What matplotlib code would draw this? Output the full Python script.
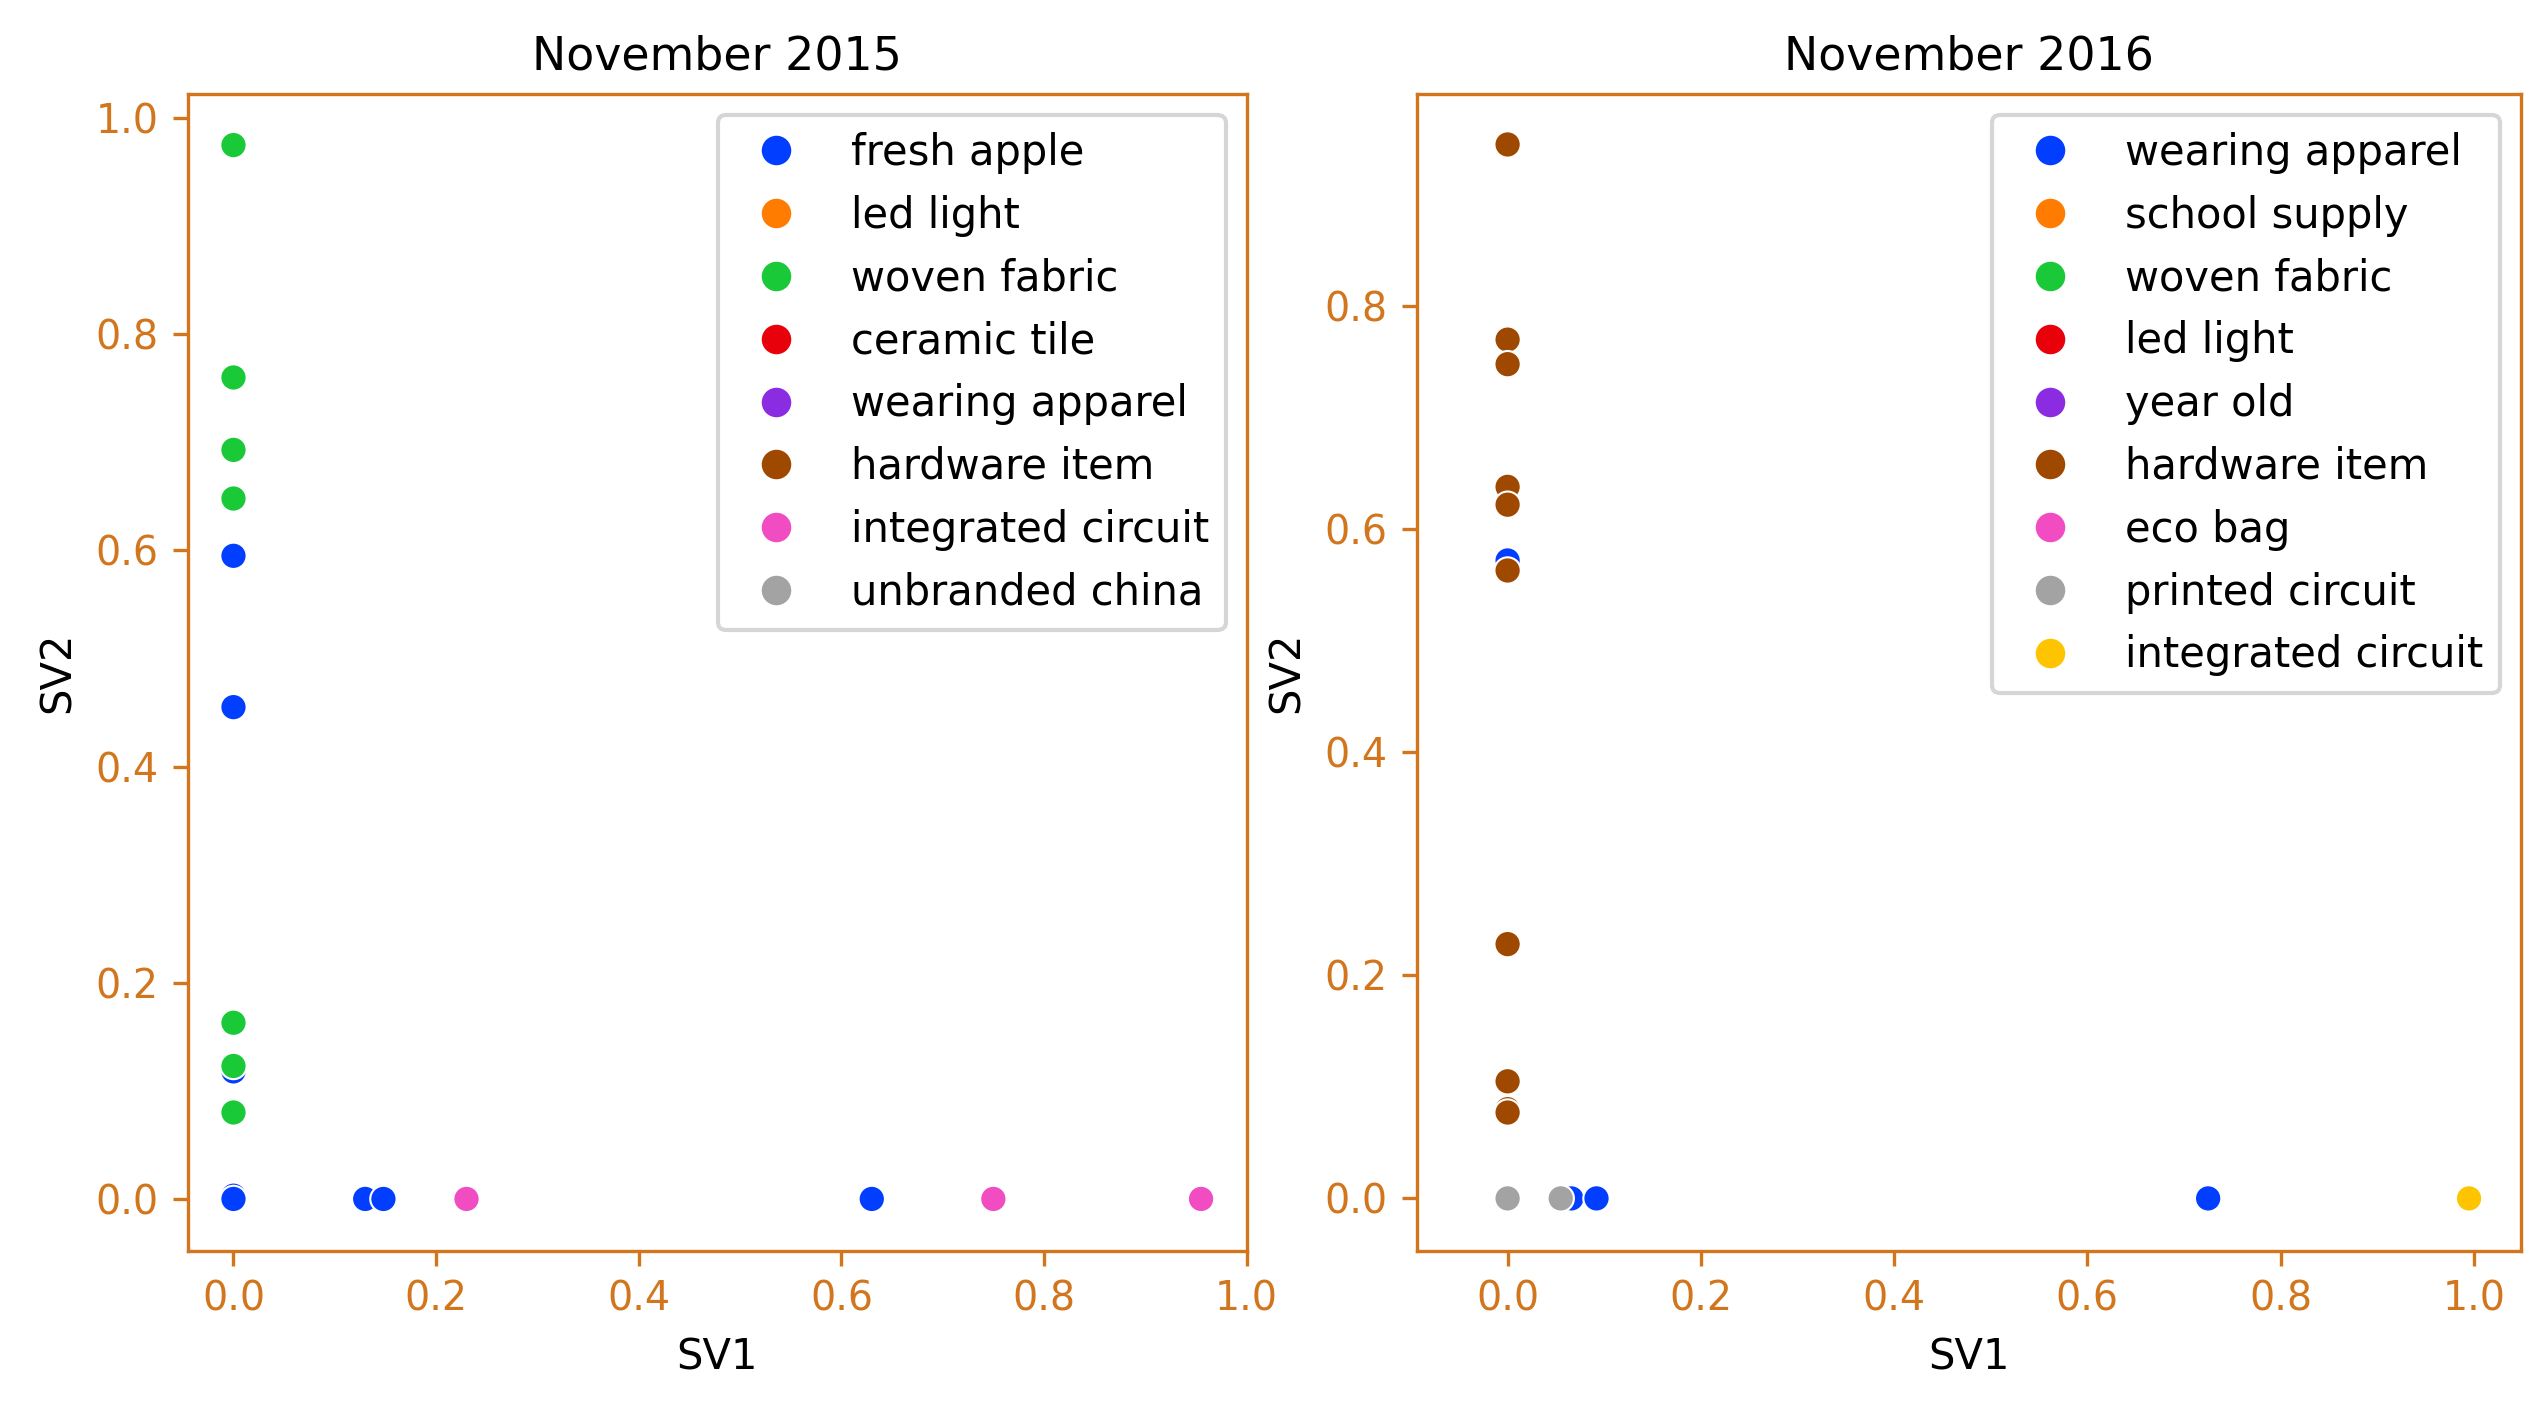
import matplotlib
matplotlib.use("Agg")
import matplotlib.pyplot as plt
import seaborn as sns
import pandas as pd

orange = '#d2761e'

# November 2015
cats15 = ['fresh apple', 'led light', 'woven fabric', 'ceramic tile', 'wearing apparel',
          'hardware item', 'integrated circuit', 'unbranded china']
lab15 = ['led light', 'ceramic tile', 'wearing apparel', 'hardware item', 'unbranded china',
         'fresh apple', 'fresh apple', 'fresh apple', 'fresh apple', 'fresh apple', 'fresh apple', 'fresh apple', 'fresh apple',
         'woven fabric', 'woven fabric', 'woven fabric', 'woven fabric', 'woven fabric', 'woven fabric', 'woven fabric',
         'integrated circuit', 'integrated circuit', 'integrated circuit']
sv1_15 = [0, 0, 0, 0, 0,
          0, 0, 0, 0, 0, 0.13, 0.148, 0.63,
          0, 0, 0, 0, 0, 0, 0,
          0.23, 0.75, 0.955]
sv2_15 = [0, 0, 0, 0, 0.004,
          0.595, 0.455, 0.118, 0.003, 0, 0, 0, 0,
          0.975, 0.76, 0.693, 0.648, 0.163, 0.123, 0.08,
          0, 0, 0]

# November 2016
cats16 = ['wearing apparel', 'school supply', 'woven fabric', 'led light', 'year old',
          'hardware item', 'eco bag', 'printed circuit', 'integrated circuit']
lab16 = ['school supply', 'woven fabric', 'led light', 'year old', 'eco bag',
         'wearing apparel', 'wearing apparel', 'wearing apparel', 'wearing apparel',
         'hardware item', 'hardware item', 'hardware item', 'hardware item', 'hardware item',
         'hardware item', 'hardware item', 'hardware item', 'hardware item', 'hardware item',
         'printed circuit', 'printed circuit', 'integrated circuit']
sv1_16 = [0, 0, 0, 0, 0,
          0, 0.066, 0.092, 0.725,
          0, 0, 0, 0, 0, 0, 0, 0, 0, 0,
          0, 0.055, 0.995]
sv2_16 = [0, 0, 0, 0, 0,
          0.572, 0, 0, 0,
          0.945, 0.77, 0.748, 0.638, 0.622, 0.563, 0.228, 0.105, 0.08, 0.077,
          0, 0, 0]

fig = plt.figure(figsize=(2539/300, 1407/300), dpi=300)
ax1 = fig.add_axes([0.074, 0.111, 0.417, 0.822])
ax2 = fig.add_axes([0.558, 0.111, 0.435, 0.822])

pal = sns.color_palette('bright')
for ax, cats, lab, x, y, title in [(ax1, cats15, lab15, sv1_15, sv2_15, 'November 2015'),
                                   (ax2, cats16, lab16, sv1_16, sv2_16, 'November 2016')]:
    df = pd.DataFrame({'SV1': x, 'SV2': y, 'item': lab})
    sns.scatterplot(data=df, x='SV1', y='SV2', hue='item', hue_order=cats,
                    palette=pal[:len(cats)], ax=ax, s=40)
    ax.set_title(title, fontsize=11)
    ax.set_xticks([0, 0.2, 0.4, 0.6, 0.8, 1.0])
    for sp in ax.spines.values():
        sp.set_color(orange)
    ax.tick_params(colors=orange, labelsize=9.5)
    ax.xaxis.label.set_fontsize(10)
    ax.yaxis.label.set_fontsize(10)
    ax.legend(loc='upper right', fontsize=10, markerscale=1.2)

ax1.set_xlim(-0.045, 1.0)
ax2.set_xlim(-0.094, 1.049)
ax1.set_ylim(-0.048, 1.022)
ax2.set_ylim(-0.047, 0.99)

fig.savefig('out.png', dpi=300)
